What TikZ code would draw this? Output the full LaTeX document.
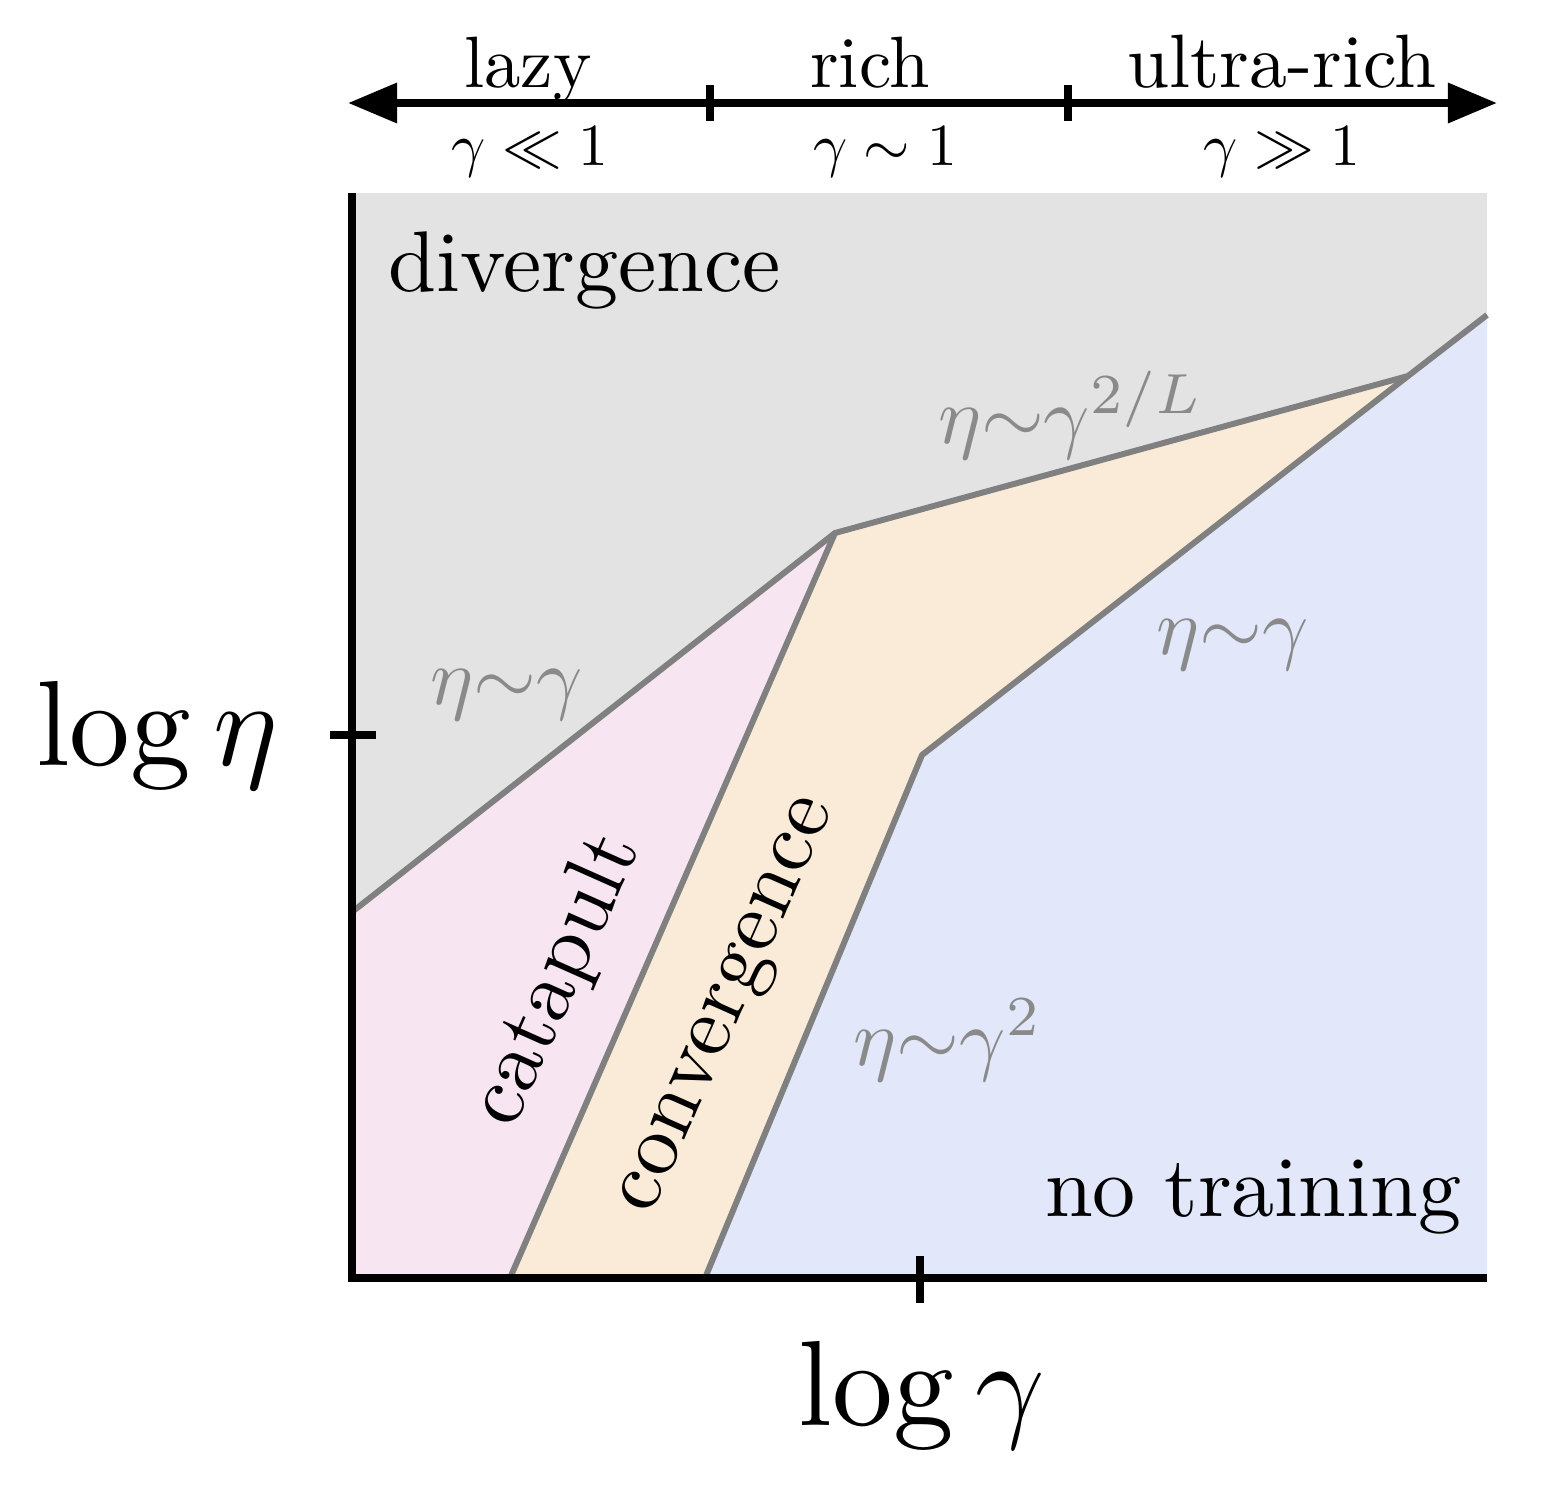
\documentclass[tikz,border=0pt]{standalone}
\usepackage{amsmath}
\usetikzlibrary{arrows.meta}
\definecolor{divgray}{HTML}{E3E3E3}
\definecolor{catpink}{HTML}{F7E6F1}
\definecolor{convpeach}{HTML}{F9EBD8}
\definecolor{nonblue}{HTML}{E2E8FA}
\definecolor{linegray}{HTML}{808080}
\definecolor{labgray}{HTML}{8A8A8A}

\begin{document}
\begin{tikzpicture}[
    border/.style={draw=linegray, line width=1.7pt, line join=round},
    axis/.style={line width=2.3pt},
    tick/.style={line width=2pt},
    phase/.style={scale=2.45, transform shape},
    scaling/.style={text=labgray, scale=2.3, transform shape},
    regime/.style={anchor=base, scale=2.07, transform shape},
    limit/.style={anchor=base, scale=1.7, transform shape},
    axlabel/.style={scale=3.45, transform shape}
  ]
    \useasboundingbox (-3.52,-2.10) rectangle (11.98,12.78);

    % corners of the phase diagram
    \coordinate (o)  at (0,0);
    \coordinate (tr) at (11.35,10.85);
    \coordinate (br) at (11.35,0);
    \coordinate (lo) at (0,3.66);
    \coordinate (kinkA) at (4.83,7.45);
    \coordinate (kinkB) at (10.56,9.02);
    \coordinate (hi) at (11.35,9.63);
    \coordinate (catB) at (1.58,0);
    \coordinate (kinkC) at (5.70,5.23);
    \coordinate (convB) at (3.53,0);

    % regions
    \fill[divgray]   (o) rectangle (tr);
    \fill[catpink]   (o) -- (lo) -- (kinkA) -- (catB) -- cycle;
    \fill[convpeach] (catB) -- (kinkA) -- (kinkB) -- (kinkC) -- (convB) -- cycle;
    \fill[nonblue]   (convB) -- (kinkC) -- (kinkB) -- (hi) -- (br) -- cycle;

    % phase boundaries
    \draw[border] (lo) -- (kinkA) -- (kinkB) -- (hi);
    \draw[border] (kinkA) -- (catB);
    \draw[border] (kinkB) -- (kinkC) -- (convB);

    % axes
    \draw[axis, line join=miter] (0,10.85) -- (o) -- (br);
    \draw[tick] (-0.22,5.43) -- (0.24,5.43);
    \draw[tick] (5.68,-0.25) -- (5.68,0.22);

    % regime arrow
    \coordinate (arrL) at (-0.04,11.75);
    \coordinate (arrR) at (11.45,11.75);
    \draw[line width=2.3pt, {Triangle[length=14pt,width=11pt]}-{Triangle[length=14pt,width=11pt]}] (arrL) -- (arrR);
    \draw[tick] (3.58,11.57) -- (3.58,11.93);
    \draw[tick] (7.16,11.57) -- (7.16,11.93);

    \node[regime] (lazy)  at (1.76,11.91) {lazy};
    \node[regime] (rich)  at (5.18,11.91) {rich};
    \node[regime, scale=1.04] (ultra) at (9.30,11.91) {ultra-rich};
    \node[limit]  (small) at (1.78,11.13) {$\gamma \ll 1$};
    \node[limit]  (order) at (5.33,11.13) {$\gamma \sim 1$};
    \node[limit]  (large) at (9.30,11.13) {$\gamma \gg 1$};

    % phase names
    \node[phase, anchor=west] (div) at (0.06,10.08) {divergence};
    \node[phase, rotate=66] (cat)  at (2.05,2.98) {catapult};
    \node[phase, rotate=66] (conv) at (3.80,2.70) {convergence};
    \node[phase, anchor=base east] (none) at (11.40,0.62) {no training};

    % scaling laws
    \node[scaling] (lawA) at (1.55,5.83) {$\eta{\sim}\gamma$};
    \node[scaling] (lawB) at (7.19,8.63) {$\eta{\sim}\gamma^{2/L}$};
    \node[scaling] (lawC) at (8.81,6.33) {$\eta{\sim}\gamma$};
    \node[scaling] (lawD) at (5.96,2.38) {$\eta{\sim}\gamma^2$};

    % axis labels
    \node[axlabel] (ylab) at (-1.95,5.43) {$\log\eta$};
    \node[axlabel] (xlab) at (5.70,-1.17) {$\log\gamma$};
  \end{tikzpicture}
\end{document}
